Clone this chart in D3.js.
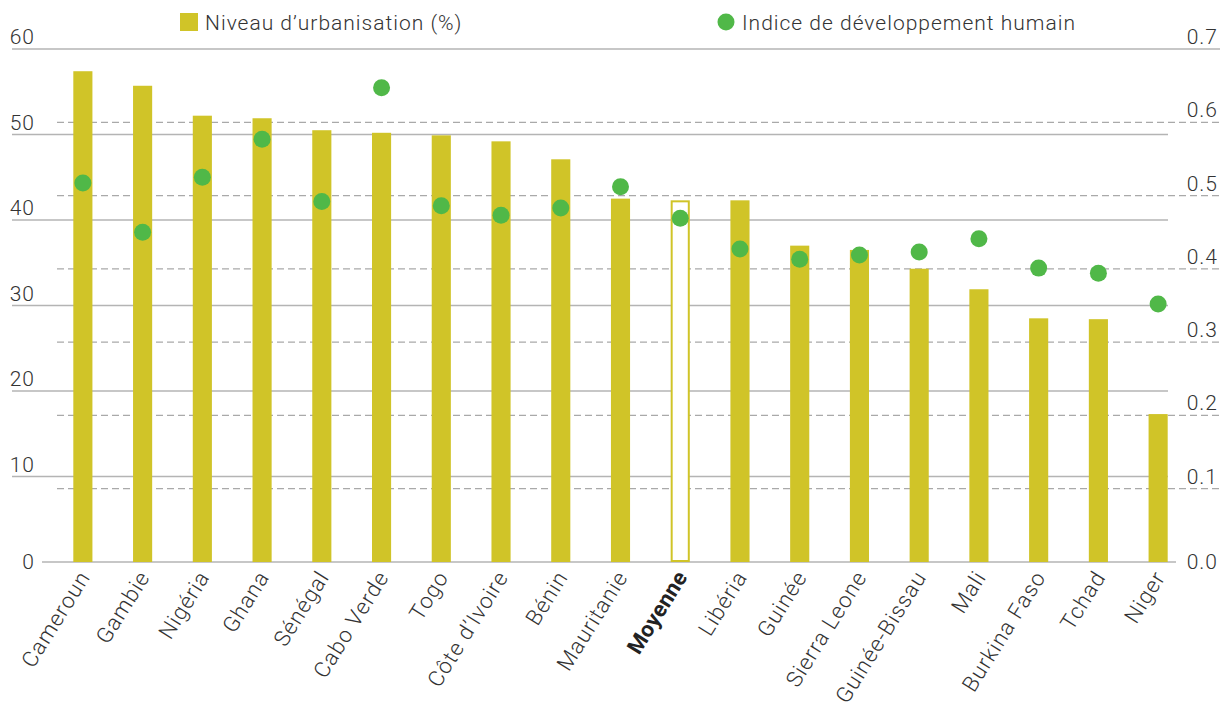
<!DOCTYPE html>
<html>
<head>
<meta charset="utf-8">
<script src="https://cdn.jsdelivr.net/npm/d3@7"></script>
<style>
  html, body { margin: 0; padding: 0; background: #fff; }
  svg text { font-family: "Roboto", "Liberation Sans", sans-serif; font-weight: 300; fill: #333; letter-spacing: 1px; }
</style>
</head>
<body>
<svg id="chart" width="1220" height="708"></svg>
<script>
// Countries, ordered by urbanisation level; "Moyenne" is the group average
const categories = ["Cameroun", "Gambie", "Nigéria", "Ghana", "Sénégal", "Cabo Verde", "Togo",
  "Côte d’Ivoire", "Bénin", "Mauritanie", "Moyenne", "Libéria", "Guinée", "Sierra Leone",
  "Guinée-Bissau", "Mali", "Burkina Faso", "Tchad", "Niger"];

// Urbanisation level (%)
const urbanisation = [57.4, 55.7, 52.2, 51.9, 50.5, 50.2, 49.9, 49.2, 47.1, 42.5, 42.3, 42.3,
  37.0, 36.5, 34.3, 31.9, 28.5, 28.4, 17.3];

// Human development index
const idh = [0.517, 0.450, 0.525, 0.577, 0.492, 0.647, 0.486, 0.473, 0.483, 0.512, 0.469, 0.427,
  0.413, 0.419, 0.423, 0.441, 0.401, 0.394, 0.352];

const leftTicks = [0, 10, 20, 30, 40, 50, 60];
const rightTicks = [0.0, 0.1, 0.2, 0.3, 0.4, 0.5, 0.6, 0.7];

const barColor = "#D0C428";
const dotColor = "#50B848";
const gridColor = "#b4b4b4";
const fontSize = 21;

const svg = d3.select("#chart");

const x = d3.scaleBand().domain(categories).range([53, 1188]).paddingInner(0.68).paddingOuter(0.34);
const yL = d3.scaleLinear().domain([0, 60]).range([562, 49]);
const yR = d3.scaleLinear().domain([0, 0.7]).range([562, 49]);

// Dashed gridlines for the right-hand (index) axis
svg.append("g").selectAll("line").data(rightTicks.filter(t => t > 0 && t < 0.7)).join("line")
  .attr("x1", 57).attr("x2", 1220)
  .attr("y1", d => yR(d)).attr("y2", d => yR(d))
  .attr("stroke", "#a9a9a9").attr("stroke-width", 1.2).attr("stroke-dasharray", "7,4");

// Solid gridlines for the left-hand (%) axis
svg.append("g").selectAll("line").data(leftTicks.filter(t => t > 0)).join("line")
  .attr("x1", 12).attr("x2", d => d === 60 ? 1220 : 1168)
  .attr("y1", d => yL(d)).attr("y2", d => yL(d))
  .attr("stroke", gridColor).attr("stroke-width", 1.5);

// Baseline
svg.append("line").attr("x1", 42).attr("x2", 1176).attr("y1", yL(0)).attr("y2", yL(0))
  .attr("stroke", gridColor).attr("stroke-width", 1.5);

// Left tick labels (sitting just above their gridline)
svg.append("g").selectAll("text").data(leftTicks).join("text")
  .attr("x", 35).attr("y", d => d === 0 ? yL(d) + 7 : yL(d) - 5)
  .attr("text-anchor", "end").attr("font-size", fontSize)
  .text(d => d);

// Right tick labels
svg.append("g").selectAll("text").data(rightTicks).join("text")
  .attr("x", 1218).attr("y", d => d === 0 ? yR(d) + 7 : yR(d) - 5)
  .attr("text-anchor", "end").attr("font-size", fontSize)
  .text(d => d3.format(".1f")(d));

// Bars
const bars = categories.map((c, i) => ({ c, v: urbanisation[i] }));
svg.append("g").selectAll("rect").data(bars).join("rect")
  .attr("x", d => d.c === "Moyenne" ? x(d.c) + 1 : x(d.c))
  .attr("y", d => d.c === "Moyenne" ? yL(d.v) + 1 : yL(d.v))
  .attr("width", d => d.c === "Moyenne" ? x.bandwidth() - 2 : x.bandwidth())
  .attr("height", d => d.c === "Moyenne" ? yL(0) - yL(d.v) - 2 : yL(0) - yL(d.v))
  .attr("fill", d => d.c === "Moyenne" ? "#fff" : barColor)
  .attr("stroke", d => d.c === "Moyenne" ? barColor : "none")
  .attr("stroke-width", 2);

// Index dots
const dots = categories.map((c, i) => ({ c, v: idh[i] }));
svg.append("g").selectAll("circle").data(dots).join("circle")
  .attr("cx", d => x(d.c) + x.bandwidth() / 2)
  .attr("cy", d => yR(d.v))
  .attr("r", 8.5)
  .attr("fill", dotColor);

// Category labels, rotated
svg.append("g").selectAll("text").data(categories).join("text")
  .attr("transform", d => `translate(${x(d) + x.bandwidth() / 2 + 8},${577}) rotate(-58)`)
  .attr("text-anchor", "end")
  .attr("font-size", 22)
  .style("font-weight", d => d === "Moyenne" ? 700 : 300)
  .style("letter-spacing", d => d === "Moyenne" ? "0.3px" : "1px")
  .style("fill", d => d === "Moyenne" ? "#222" : "#333")
  .text(d => d);

// Legend
const legend = svg.append("g");
legend.append("rect").attr("x", 180).attr("y", 13).attr("width", 18).attr("height", 18).attr("fill", barColor);
legend.append("text").attr("x", 205).attr("y", 30).attr("font-size", fontSize).text("Niveau d’urbanisation (%)");
legend.append("circle").attr("cx", 726).attr("cy", 22).attr("r", 8.5).attr("fill", dotColor);
legend.append("text").attr("x", 742).attr("y", 30).attr("font-size", fontSize).text("Indice de développement humain");
</script>
</body>
</html>
